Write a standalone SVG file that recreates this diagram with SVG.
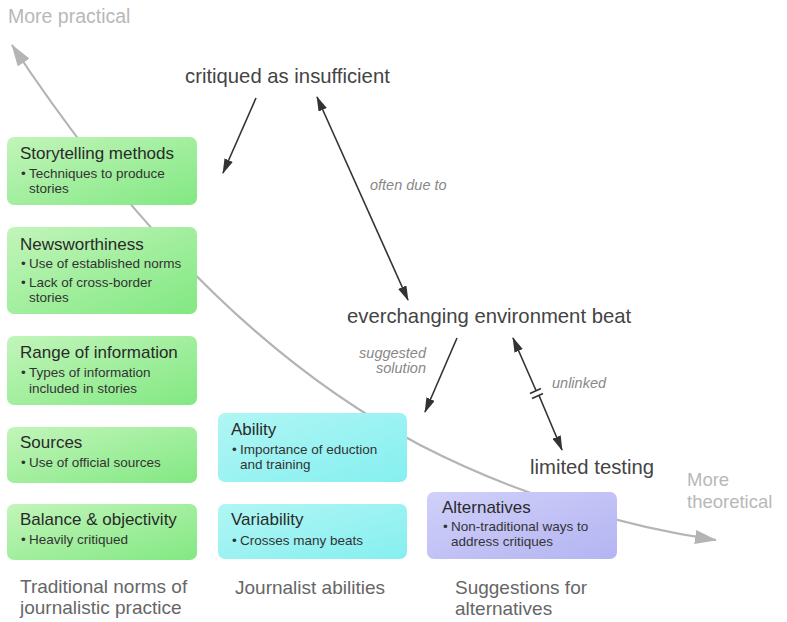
<svg xmlns="http://www.w3.org/2000/svg" width="787" height="622" viewBox="0 0 787 622">
  <defs>
    <linearGradient id="gGreen" x1="0" y1="0" x2="1" y2="1">
      <stop offset="0" stop-color="#c2f5ba"/>
      <stop offset="1" stop-color="#82e882"/>
    </linearGradient>
    <linearGradient id="gCyan" x1="0" y1="0" x2="1" y2="1">
      <stop offset="0" stop-color="#b0f6f4"/>
      <stop offset="1" stop-color="#86eff0"/>
    </linearGradient>
    <linearGradient id="gPurple" x1="0" y1="0" x2="1" y2="1">
      <stop offset="0" stop-color="#d0d0fa"/>
      <stop offset="1" stop-color="#b4b4f2"/>
    </linearGradient>
    <marker id="ahDark" markerWidth="15" markerHeight="9" refX="14" refY="4.5" orient="auto-start-reverse" markerUnits="userSpaceOnUse">
      <path d="M0,0 L15,4.5 L0,9 Z" fill="#333"/>
    </marker>
    <marker id="ahGray" markerWidth="22" markerHeight="14" refX="21" refY="7" orient="auto-start-reverse" markerUnits="userSpaceOnUse">
      <path d="M0,0 L22,7 L0,14 Z" fill="#b4b4b4"/>
    </marker>
  </defs>
  <style>
    text { font-family: "Liberation Sans", Arial, sans-serif; }
    .title { font-size: 17px; fill: #2a2a2a; }
    .bul { font-size: 13.5px; fill: #333; }
    .col { font-size: 19px; fill: #666; }
    .axis { font-size: 19.5px; fill: #b8b8b8; }
    .axis2 { font-size: 18.5px; fill: #b8b8b8; }
    .mid { font-size: 20.3px; fill: #444; }
    .lbl { font-size: 14.5px; fill: #888; font-style: italic; }
    .conn { stroke: #333; stroke-width: 1.6; fill: none; }
    .green { fill: url(#gGreen); }
    .cyan { fill: url(#gCyan); }
    .purple { fill: url(#gPurple); }
  </style>

  <!-- axis curve -->
  <g id="axis">
    <path d="M12,45 Q200,330 420,445 C515,494 620,526 716,540" fill="none" stroke="#b4b4b4" stroke-width="2.2" marker-start="url(#ahGray)" marker-end="url(#ahGray)"/>
    <text class="axis" x="8" y="23">More practical</text>
    <text class="axis2" x="687" y="486">More</text>
    <text class="axis2" x="687" y="508">theoretical</text>
  </g>

  <g id="storytelling">
    <rect class="green" x="7" y="137" width="190" height="68" rx="7"/>
    <text class="title" x="20" y="159">Storytelling methods</text>
    <text class="bul" x="21" y="178">•</text>
    <text class="bul" x="29" y="178">Techniques to produce</text>
    <text class="bul" x="29" y="193">stories</text>
  </g>
  <g id="newsworthiness">
    <rect class="green" x="7" y="227" width="190" height="87" rx="7"/>
    <text class="title" x="20" y="250">Newsworthiness</text>
    <text class="bul" x="21" y="268">•</text>
    <text class="bul" x="29" y="268">Use of established norms</text>
    <text class="bul" x="21" y="287">•</text>
    <text class="bul" x="29" y="287">Lack of cross-border</text>
    <text class="bul" x="29" y="302">stories</text>
  </g>
  <g id="range">
    <rect class="green" x="7" y="336" width="190" height="69" rx="7"/>
    <text class="title" x="20" y="358">Range of information</text>
    <text class="bul" x="21" y="377">•</text>
    <text class="bul" x="29" y="377">Types of information</text>
    <text class="bul" x="29" y="393">included in stories</text>
  </g>
  <g id="sources">
    <rect class="green" x="7" y="427" width="190" height="56" rx="7"/>
    <text class="title" x="20" y="448">Sources</text>
    <text class="bul" x="21" y="467">•</text>
    <text class="bul" x="29" y="467">Use of official sources</text>
  </g>
  <g id="balance">
    <rect class="green" x="7" y="504" width="190" height="56" rx="7"/>
    <text class="title" x="20" y="525">Balance &amp; objectivity</text>
    <text class="bul" x="21" y="544">•</text>
    <text class="bul" x="29" y="544">Heavily critiqued</text>
  </g>

  <g id="ability">
    <rect class="cyan" x="218" y="413" width="189" height="69" rx="7"/>
    <text class="title" x="231" y="435">Ability</text>
    <text class="bul" x="232" y="454">•</text>
    <text class="bul" x="240" y="454">Importance of eduction</text>
    <text class="bul" x="240" y="469">and training</text>
  </g>
  <g id="variability">
    <rect class="cyan" x="218" y="504" width="189" height="55" rx="7"/>
    <text class="title" x="231" y="525">Variability</text>
    <text class="bul" x="232" y="545">•</text>
    <text class="bul" x="240" y="545">Crosses many beats</text>
  </g>

  <g id="alternatives">
    <rect class="purple" x="427" y="492" width="190" height="67" rx="7"/>
    <text class="title" x="442" y="513">Alternatives</text>
    <text class="bul" x="443" y="531">•</text>
    <text class="bul" x="451" y="531">Non-traditional ways to</text>
    <text class="bul" x="451" y="546">address critiques</text>
  </g>

  <g id="column-labels">
    <text class="col" x="20" y="593">Traditional norms of</text>
    <text class="col" x="20" y="614">journalistic practice</text>
    <text class="col" x="235" y="594">Journalist abilities</text>
    <text class="col" x="455" y="594">Suggestions for</text>
    <text class="col" x="455" y="615">alternatives</text>
  </g>

  <g id="critiqued">
    <text class="mid" x="185" y="83">critiqued as insufficient</text>
  </g>
  <g id="everchanging">
    <text class="mid" x="347" y="323">everchanging environment beat</text>
  </g>
  <g id="limited-testing">
    <text class="mid" x="530" y="474">limited testing</text>
  </g>

  <g id="connectors">
    <line class="conn" x1="256" y1="98" x2="223" y2="173" marker-end="url(#ahDark)"/>
    <line class="conn" x1="317" y1="97" x2="408" y2="300" marker-start="url(#ahDark)" marker-end="url(#ahDark)"/>
    <text class="lbl" x="370" y="190">often due to</text>
    <line class="conn" x1="457" y1="338" x2="425" y2="412" marker-end="url(#ahDark)"/>
    <text class="lbl" x="426" y="358" text-anchor="end">suggested</text>
    <text class="lbl" x="426" y="373" text-anchor="end">solution</text>
    <line class="conn" x1="513" y1="338" x2="536" y2="390.5" marker-start="url(#ahDark)"/>
    <line class="conn" x1="539" y1="395.5" x2="562" y2="450" marker-end="url(#ahDark)"/>
    <line class="conn" x1="530" y1="393.5" x2="541" y2="388.5"/>
    <line class="conn" x1="532" y1="398.5" x2="543" y2="393.5"/>
    <text class="lbl" x="552" y="388">unlinked</text>
  </g>
</svg>
